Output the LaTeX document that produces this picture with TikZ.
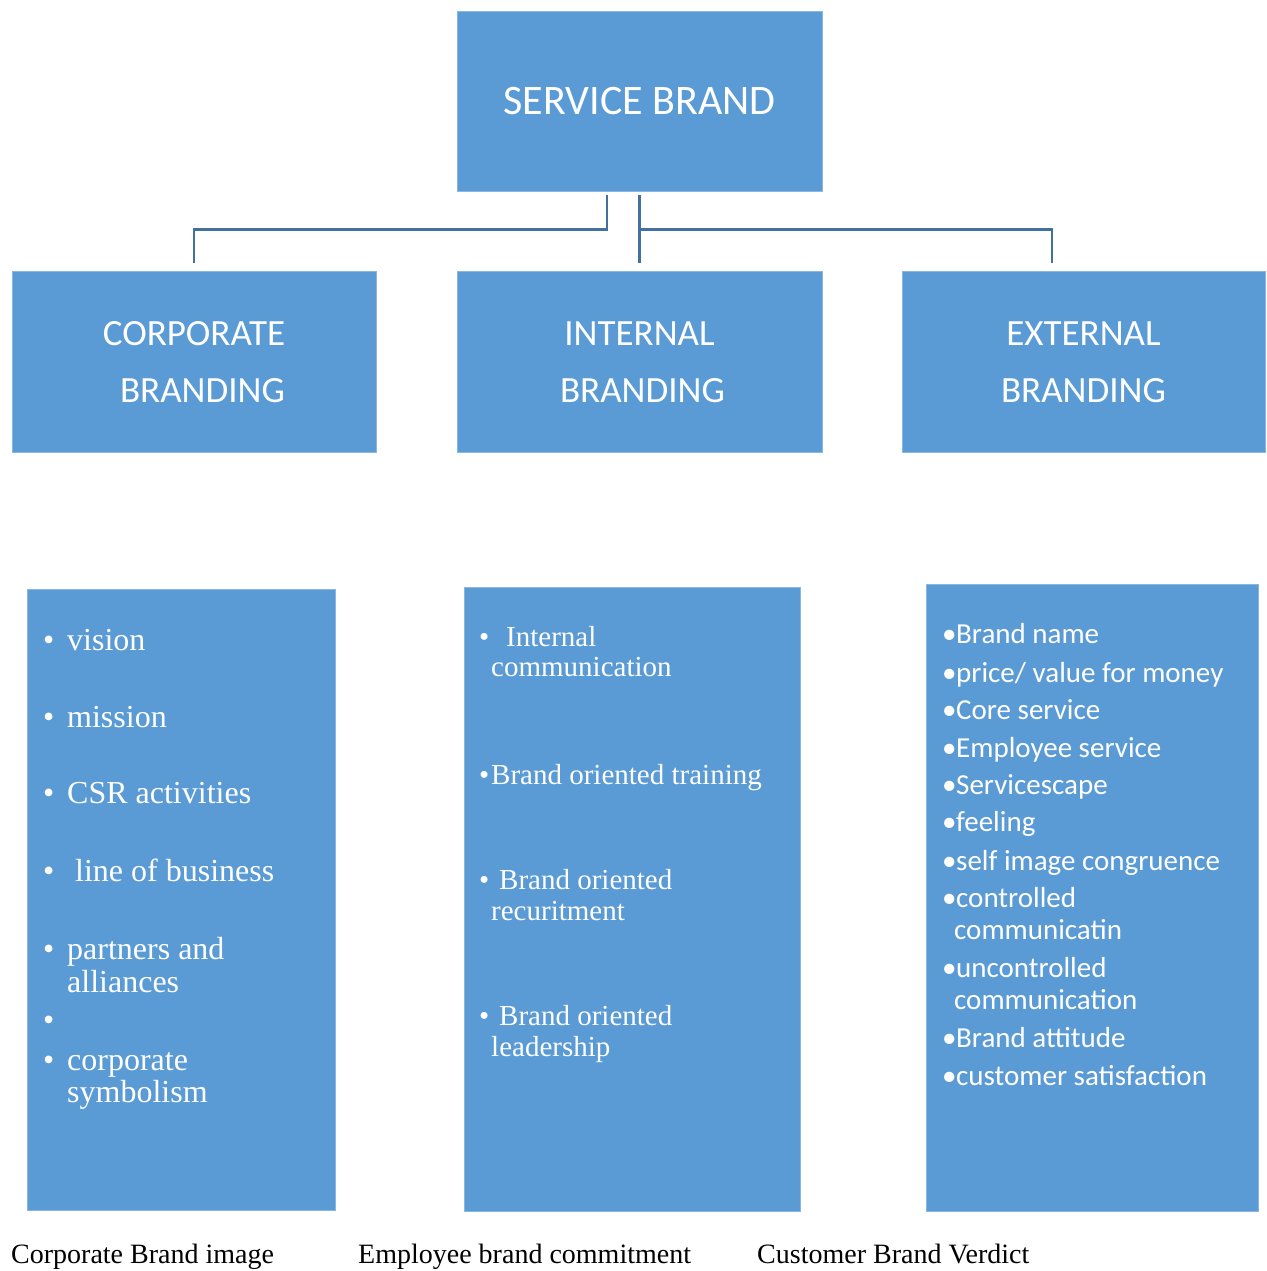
\documentclass[tikz,border=0pt]{standalone}
\usepackage{fontspec}
\setmainfont{Liberation Serif}
\newfontfamily\calib{Carlito}
\definecolor{boxblue}{HTML}{5B9BD5}
\definecolor{boxedge}{HTML}{8AB6E2}
\definecolor{linkblue}{HTML}{41719C}
\tikzset{
  box/.style={fill=boxblue, draw=boxedge, line width=0.8pt, inner sep=0pt},
  headbox/.style={box, text=white, align=center,
    font=\calib\fontsize{37}{57}\selectfont},
  textline/.style={inner sep=0pt, anchor=mid west, yshift=-7.5pt},
  seritem/.style={textline, text=white, font=\fontsize{32}{33}\selectfont},
  miditem/.style={textline, text=white, font=\fontsize{29}{31}\selectfont},
  sansitem/.style={textline, text=white, font=\calib\fontsize{29}{32}\selectfont},
  caption/.style={textline, text=black, font=\fontsize{28}{30}\selectfont},
  link/.style={draw=linkblue, line width=2.4pt},
}
\begin{document}
\begin{tikzpicture}[x=1pt,y=-1pt]
\useasboundingbox (0,0) rectangle (1266,1271);
\fill[white] (0,0) rectangle (1266,1271);

% top level
\node[box, text=white, font=\calib\fontsize{42}{50}\selectfont,
  minimum width=365pt, minimum height=180pt] (sb) at (639.5,101) {SERVICE BRAND};

% second level
\node[headbox, minimum width=364pt, minimum height=181pt] (cb) at (194,362)
  {CORPORATE\\\hspace*{17pt}BRANDING};
\node[headbox, minimum width=365pt, minimum height=181pt] (ib) at (639.5,362)
  {INTERNAL\\\hspace*{6pt}BRANDING};
\node[headbox, minimum width=363pt, minimum height=181pt] (eb) at (1083.5,362)
  {EXTERNAL\\BRANDING};

% connectors
\draw[link] ([xshift=-32.5pt,yshift=-4pt]sb.south) |- ([yshift=-38pt]sb.south -| cb.north)
  -- ([yshift=8pt]cb.north);
\draw[link] ([yshift=-4pt]sb.south) -- ([yshift=8pt]ib.north);
\draw[link] ([yshift=-38pt]sb.south) -| ([xshift=-31.5pt,yshift=8pt]eb.north);

% third level boxes
\node[box, minimum width=308pt, minimum height=621pt] (cl) at (181,899.5) {};
\node[box, minimum width=336pt, minimum height=624pt] (il) at (632,899) {};
\node[box, minimum width=332pt, minimum height=627pt] (el) at (1092,897.5) {};

% corporate list
\node[seritem] (cb1) at (43,641) {•};
\node[seritem] (ct1) at (67,641) {vision};
\node[seritem] (cb2) at (43,718) {•};
\node[seritem] (ct2) at (67,718) {mission};
\node[seritem] (cb3) at (43,794) {•};
\node[seritem] (ct3) at (67,794) {CSR activities};
\node[seritem] (cb4) at (43,872) {•};
\node[seritem] (ct4) at (75,872) {line of business};
\node[seritem] (cb5) at (43,950) {•};
\node[seritem] (ct5) at (67,950) {partners and};
\node[seritem] (ct5b) at (67,983) {alliances};
\node[seritem] (cb6) at (43,1021) {•};
\node[seritem] (cb7) at (43,1061) {•};
\node[seritem] (ct7) at (67,1061) {corporate};
\node[seritem] (ct7b) at (67,1093) {symbolism};

% internal list
\node[miditem] (ib1) at (479,637) {•};
\node[miditem] (it1) at (506,637) {Internal};
\node[miditem] (it1b) at (491,667) {communication};
\node[miditem] (ib2) at (479,775) {•};
\node[miditem] (it2) at (491,775) {Brand oriented training};
\node[miditem] (ib3) at (479,880) {•};
\node[miditem] (it3) at (499,880) {Brand oriented};
\node[miditem] (it3b) at (491,911) {recuritment};
\node[miditem] (ib4) at (479,1016) {•};
\node[miditem] (it4) at (499,1016) {Brand oriented};
\node[miditem] (it4b) at (491,1047) {leadership};

% external list
\node[sansitem] (eb1) at (942,634) {•};
\node[sansitem] (et1) at (956,634) {Brand name};
\node[sansitem] (eb2) at (942,673) {•};
\node[sansitem] (et2) at (956,673) {price/ value for money};
\node[sansitem] (eb3) at (942,710) {•};
\node[sansitem] (et3) at (956,710) {Core service};
\node[sansitem] (eb4) at (942,748) {•};
\node[sansitem] (et4) at (956,748) {Employee service};
\node[sansitem] (eb5) at (942,785) {•};
\node[sansitem] (et5) at (956,785) {Servicescape};
\node[sansitem] (eb6) at (942,822) {•};
\node[sansitem] (et6) at (956,822) {feeling};
\node[sansitem] (eb7) at (942,861) {•};
\node[sansitem] (et7) at (956,861) {self image congruence};
\node[sansitem] (eb8) at (942,898) {•};
\node[sansitem] (et8) at (956,898) {controlled};
\node[sansitem] (et8b) at (954,930) {communicatin};
\node[sansitem] (eb9) at (942,968) {•};
\node[sansitem] (et9) at (956,968) {uncontrolled};
\node[sansitem] (et9b) at (954,1000) {communication};
\node[sansitem] (eb10) at (942,1038) {•};
\node[sansitem] (et10) at (956,1038) {Brand attitude};
\node[sansitem] (eb11) at (942,1076) {•};
\node[sansitem] (et11) at (956,1076) {customer satisfaction};

% captions
\node[caption] (cc) at (11,1254) {Corporate Brand image};
\node[caption] (ic) at (358,1254) {Employee brand commitment};
\node[caption] (ec) at (757,1254) {Customer Brand Verdict};
\end{tikzpicture}
\end{document}
